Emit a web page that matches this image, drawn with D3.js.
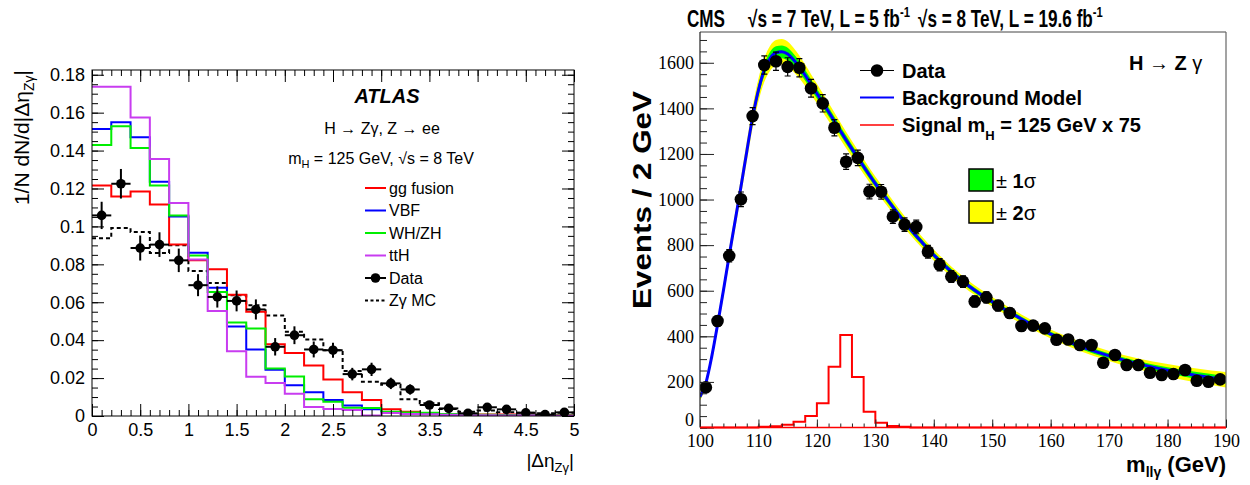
<!DOCTYPE html>
<html>
<head>
<meta charset="utf-8">
<script src="https://cdn.jsdelivr.net/npm/d3@7"></script>
<style>
  body { margin: 0; background: #fff; }
  svg { display: block; }
</style>
</head>
<body>
<svg id="fig" width="1250" height="485"></svg>
<script>
// ================= Left panel: normalised |Δη(Zγ)| distributions =================
const etaEdges = d3.range(26).map(i => i * 0.2);           // 25 bins of 0.2 in [0,5]
const ggFusion = [0.1216,0.1158,0.1184,0.1116,0.0904,0.0821,0.0774,0.0640,0.0550,0.0378,
                  0.0332,0.0266,0.0193,0.0125,0.0084,0.0036,0.0022,0.0014,0.0010,0.0010,
                  0.0008,0.0008,0.0006,0.0005,0.0005];
const vbf      = [0.1514,0.1549,0.1470,0.1235,0.1052,0.0861,0.0677,0.0472,0.0351,0.0244,
                  0.0162,0.0125,0.0084,0.0055,0.0036,0.0020,0.0015,0.0011,0.0008,0.0005,
                  0.0004,0.0003,0.0002,0.0002,0.0001];
const whzh     = [0.1430,0.1528,0.1414,0.1216,0.1058,0.0847,0.0654,0.0493,0.0461,0.0250,
                  0.0208,0.0089,0.0075,0.0043,0.0042,0.0023,0.0019,0.0017,0.0011,0.0008,
                  0.0006,0.0004,0.0003,0.0002,0.0002];
const ttH      = [0.1737,0.1737,0.1575,0.1356,0.1124,0.0825,0.0554,0.0342,0.0207,0.0174,
                  0.0118,0.0048,0.0037,0.0031,0.0003,0.0016,0.0011,0.0009,0.0007,0.0004,
                  0.0004,0.0003,0.0002,0.0001,0.0001];
const zgammaMC = [0.0937,0.0991,0.0970,0.0860,0.0900,0.0765,0.0702,0.0637,0.0584,0.0530,
                  0.0444,0.0404,0.0347,0.0237,0.0180,0.0165,0.0088,0.0067,0.0037,0.0023,
                  0.0029,0.0020,0.0017,0.0014,0.0017];
const etaData  = [0.1058,0.1225,0.0886,0.0904,0.0821,0.0690,0.0628,0.0607,0.0562,0.0365,
                  0.0426,0.0351,0.0347,0.0221,0.0246,0.0172,0.0140,0.0058,0.0040,0.0014,
                  0.0046,0.0035,0.0017,0.0007,0.0019];
const etaDataErr = [0.0072,0.0078,0.0066,0.0065,0.0062,0.0058,0.0056,0.0055,0.0053,0.0046,
                    0.0047,0.0042,0.0040,0.0033,0.0035,0.0030,0.0027,0.0018,0.0015,0.0009,
                    0.0016,0.0014,0.0010,0.0007,0.0011];
const etaTicks   = [0,0.5,1,1.5,2,2.5,3,3.5,4,4.5,5];
const etaMinor   = d3.range(51).map(i => i / 10);
const densTicks  = [0,0.02,0.04,0.06,0.08,0.1,0.12,0.14,0.16,0.18];
const densMinor  = d3.range(37).map(i => i * 0.005);
const densLabels = ["0","0.02","0.04","0.06","0.08","0.1","0.12","0.14","0.16","0.18"];

const procNames  = ["gg fusion","VBF","WH/ZH","ttH"];
const procColors = ["#ff0000","#0000ff","#00ee00","#c83cf0"];

// ================= Right panel: m(llγ) spectrum =================
const massEdges   = d3.range(46).map(i => 100 + 2 * i);    // 45 bins of 2 GeV
const massCenters = d3.range(45).map(i => 101 + 2 * i);
const massCounts = [176,467,753,1001,1366,1590,1607,1582,1578,1488,
                    1422,1315,1166,1183,1035,1034,925,890,880,771,
                    714,662,640,553,571,535,502,445,447,435,
                    385,386,362,362,284,318,274,274,240,230,
                    235,252,205,201,211];
const massErr    = [13,22,27,32,37,40,40,40,40,39,
                    38,36,34,34,32,32,30,30,30,28,
                    27,26,25,24,24,23,22,21,21,21,
                    20,20,19,19,17,18,17,17,15,15,
                    15,16,14,14,15];
const signalX75  = [0,0,0,0,0,3,6,12,25,50,
                    106,267,406,221,69,21,7,3,0,0,
                    0,0,0,0,0,0,0,0,0,0,
                    0,0,0,0,0,0,0,0,0,0,
                    0,0,0,0,0];
const fitMass = [100,101,102,103,104,105,106,107,108,109,110,111,112,113,114,115,116,117,118,119,
                 120,122,124,126,128,130,132,134,136,138,140,142,144,146,148,150,155,160,165,170,
                 175,180,185,190];
const fitBkg  = [135,195,310,450,600,755,905,1055,1210,1360,1480,1568,1620,1644,1648,1638,1613,1582,1545,1505,
                 1465,1385,1302,1222,1145,1070,1002,934,870,812,757,707,662,621,585,552,476,410,357,314,
                 279,251,228,209];
const fitSig1 = [8,9,11,13,15,17,18,20,22,23,25,26,28,28,28,28,27,25,24,23,
                 22,20,19,18,17,16,15,14,13,13,12,12,11,11,11,11,10,10,11,11,
                 12,13,15,16];
const fitSig2 = [15,18,22,26,30,33,36,40,43,46,50,52,55,56,56,55,53,50,47,45,
                 43,40,37,35,33,31,29,27,26,25,24,23,22,22,21,21,20,20,21,22,
                 24,28,31,34];
const massTicks  = [100,110,120,130,140,150,160,170,180,190];
const massMinor  = d3.range(46).map(i => 100 + 2 * i);
const countTicks = [0,200,400,600,800,1000,1200,1400,1600];
const countMinor = d3.range(35).map(i => i * 50);

// ================= drawing =================
const svg = d3.select("#fig");
const SANS = "'Liberation Sans', Arial, Helvetica, sans-serif";
const SERIF = "'Liberation Serif', 'Times New Roman', serif";

function stepPath(x, y, edges, vals) {
  const pts = vals.map((v, i) => [edges[i], v]);
  pts.push([edges[vals.length], vals[vals.length - 1]]);
  return d3.line().x(d => x(d[0])).y(d => y(d[1])).curve(d3.curveStepAfter)(pts);
}

function tickLayer(g, axis, opts) {
  g.call(axis);
  g.select(".domain").remove();
  g.selectAll(".tick line").attr("stroke", opts.color || "#000").attr("stroke-width", 1);
  g.attr("font-family", opts.font || SANS).attr("font-size", opts.size || 18);
  g.selectAll(".tick text").attr("fill", "#000");
  return g;
}

// ---------- left panel ----------
const L = { x0: 92, x1: 574, y0: 416, y1: 70 };
const xL = d3.scaleLinear().domain([0, 5]).range([L.x0, L.x1]);
const yL = d3.scaleLinear().domain([0, 0.1825]).range([L.y0, L.y1]);

svg.append("clipPath").attr("id", "clipL").append("rect")
  .attr("x", L.x0).attr("y", L.y1).attr("width", L.x1 - L.x0).attr("height", L.y0 - L.y1);

const left = svg.append("g");
const plotL = left.append("g").attr("clip-path", "url(#clipL)");

// Zγ MC (dashed)
plotL.append("path").attr("d", stepPath(xL, yL, etaEdges, zgammaMC))
  .attr("fill", "none").attr("stroke", "#000").attr("stroke-width", 2).attr("stroke-dasharray", "4,3");

// signal production modes
[ggFusion, vbf, whzh, ttH].forEach((vals, k) => {
  plotL.append("path").attr("d", stepPath(xL, yL, etaEdges, vals))
    .attr("fill", "none").attr("stroke", procColors[k]).attr("stroke-width", 2);
});

// data with errors
const ptsL = plotL.append("g");
etaData.forEach((v, i) => {
  const c = (etaEdges[i] + etaEdges[i + 1]) / 2;
  ptsL.append("line").attr("x1", xL(etaEdges[i])).attr("x2", xL(etaEdges[i + 1]))
    .attr("y1", yL(v)).attr("y2", yL(v)).attr("stroke", "#000").attr("stroke-width", 2);
  ptsL.append("line").attr("x1", xL(c)).attr("x2", xL(c))
    .attr("y1", yL(v - etaDataErr[i])).attr("y2", yL(v + etaDataErr[i]))
    .attr("stroke", "#000").attr("stroke-width", 2);
  ptsL.append("circle").attr("cx", xL(c)).attr("cy", yL(v)).attr("r", 4.8).attr("fill", "#000");
});

// frame + ticks
left.append("rect").attr("x", L.x0).attr("y", L.y1).attr("width", L.x1 - L.x0).attr("height", L.y0 - L.y1)
  .attr("fill", "none").attr("stroke", "#000").attr("stroke-width", 1);

tickLayer(left.append("g").attr("transform", `translate(0,${L.y0})`),
  d3.axisBottom(xL).tickValues(etaTicks).tickSizeInner(-12).tickSizeOuter(0).tickPadding(7)
    .tickFormat(d3.format("~g")), {});
tickLayer(left.append("g").attr("transform", `translate(0,${L.y0})`),
  d3.axisBottom(xL).tickValues(etaMinor).tickSizeInner(-6).tickSizeOuter(0).tickFormat(""), {});
tickLayer(left.append("g").attr("transform", `translate(0,${L.y1})`),
  d3.axisTop(xL).tickValues(etaTicks).tickSizeInner(-12).tickSizeOuter(0).tickFormat(""), {});
tickLayer(left.append("g").attr("transform", `translate(0,${L.y1})`),
  d3.axisTop(xL).tickValues(etaMinor).tickSizeInner(-6).tickSizeOuter(0).tickFormat(""), {});
tickLayer(left.append("g").attr("transform", `translate(${L.x0},0)`),
  d3.axisLeft(yL).tickValues(densTicks).tickSizeInner(-12).tickSizeOuter(0).tickPadding(7)
    .tickFormat((d, i) => densLabels[i]), {});
tickLayer(left.append("g").attr("transform", `translate(${L.x0},0)`),
  d3.axisLeft(yL).tickValues(densMinor).tickSizeInner(-6).tickSizeOuter(0).tickFormat(""), {});
tickLayer(left.append("g").attr("transform", `translate(${L.x1},0)`),
  d3.axisRight(yL).tickValues(densTicks).tickSizeInner(-12).tickSizeOuter(0).tickFormat(""), {});
tickLayer(left.append("g").attr("transform", `translate(${L.x1},0)`),
  d3.axisRight(yL).tickValues(densMinor).tickSizeInner(-6).tickSizeOuter(0).tickFormat(""), {});

// axis titles
const yTitleL = left.append("text").attr("transform", `translate(29,${L.y1}) rotate(-90)`)
  .attr("text-anchor", "end").attr("font-family", SANS).attr("font-size", 21);
yTitleL.append("tspan").text("1/N dN/d|Δη");
yTitleL.append("tspan").attr("font-size", 14).attr("dy", 5).text("Zγ");
yTitleL.append("tspan").attr("dy", -5).text("|");

const xTitleL = left.append("text").attr("x", L.x1).attr("y", 467)
  .attr("text-anchor", "end").attr("font-family", SANS).attr("font-size", 19);
xTitleL.append("tspan").text("|Δη");
xTitleL.append("tspan").attr("font-size", 13).attr("dy", 5).text("Zγ");
xTitleL.append("tspan").attr("dy", -5).text("|");

// labels
left.append("text").attr("x", 387).attr("y", 103).attr("text-anchor", "middle")
  .attr("font-family", SANS).attr("font-size", 20).attr("font-weight", "bold")
  .attr("font-style", "italic").text("ATLAS");
left.append("text").attr("x", 382).attr("y", 134).attr("text-anchor", "middle")
  .attr("font-family", SANS).attr("font-size", 16).text("H → Zγ, Z → ee");
const mh = left.append("text").attr("x", 381).attr("y", 164).attr("text-anchor", "middle")
  .attr("font-family", SANS).attr("font-size", 16);
mh.append("tspan").text("m");
mh.append("tspan").attr("font-size", 11).attr("dy", 4).text("H");
mh.append("tspan").attr("dy", -4).text(" = 125 GeV, √s = 8 TeV");

// legend
const legL = left.append("g").attr("font-family", SANS).attr("font-size", 16);
const legRowY = [188, 210.5, 233, 255.5, 278, 300.5];
procNames.forEach((n, k) => {
  legL.append("line").attr("x1", 365).attr("x2", 386).attr("y1", legRowY[k]).attr("y2", legRowY[k])
    .attr("stroke", procColors[k]).attr("stroke-width", 2);
  legL.append("text").attr("x", 389).attr("y", legRowY[k] + 5.5).text(n);
});
legL.append("line").attr("x1", 365).attr("x2", 386).attr("y1", legRowY[4]).attr("y2", legRowY[4])
  .attr("stroke", "#000").attr("stroke-width", 2);
legL.append("circle").attr("cx", 375.5).attr("cy", legRowY[4]).attr("r", 4.8).attr("fill", "#000");
legL.append("text").attr("x", 389).attr("y", legRowY[4] + 5.5).text("Data");
legL.append("line").attr("x1", 365).attr("x2", 386).attr("y1", legRowY[5]).attr("y2", legRowY[5])
  .attr("stroke", "#000").attr("stroke-width", 2).attr("stroke-dasharray", "3,2.5");
legL.append("text").attr("x", 389).attr("y", legRowY[5] + 5.5).text("Zγ MC");

// ---------- right panel ----------
const R = { x0: 700, x1: 1226, y0: 427.5, y1: 32 };
const xR = d3.scaleLinear().domain([100, 190]).range([R.x0, R.x1]);
const yR = d3.scaleLinear().domain([0, 1735]).range([R.y0, R.y1]);

svg.append("clipPath").attr("id", "clipR").append("rect")
  .attr("x", R.x0).attr("y", R.y1 - 2).attr("width", R.x1 - R.x0).attr("height", R.y0 - R.y1 + 4);

const right = svg.append("g");
const plotR = right.append("g").attr("clip-path", "url(#clipR)");

const band = (sig) => d3.area().curve(d3.curveMonotoneX)
  .x((d, i) => xR(fitMass[i]))
  .y0((d, i) => yR(fitBkg[i] - sig[i]))
  .y1((d, i) => yR(fitBkg[i] + sig[i]));
plotR.append("path").attr("d", band(fitSig2)(fitMass)).attr("fill", "#ffff00");
plotR.append("path").attr("d", band(fitSig1)(fitMass)).attr("fill", "#00ff00");
plotR.append("path")
  .attr("d", d3.line().curve(d3.curveMonotoneX).x((d, i) => xR(fitMass[i])).y((d, i) => yR(fitBkg[i]))(fitMass))
  .attr("fill", "none").attr("stroke", "#0000ff").attr("stroke-width", 3);

// signal template (x75)
plotR.append("path").attr("d", stepPath(xR, yR, massEdges, signalX75))
  .attr("fill", "none").attr("stroke", "#ff0000").attr("stroke-width", 2);

// data points
const ptsR = plotR.append("g");
massCounts.forEach((v, i) => {
  const cx = xR(massCenters[i]);
  const lo = yR(v - massErr[i]), hi = yR(v + massErr[i]);
  ptsR.append("line").attr("x1", cx).attr("x2", cx).attr("y1", lo).attr("y2", hi)
    .attr("stroke", "#000").attr("stroke-width", 1.2);
  [lo, hi].forEach(yy => ptsR.append("line").attr("x1", cx - 3).attr("x2", cx + 3)
    .attr("y1", yy).attr("y2", yy).attr("stroke", "#000").attr("stroke-width", 1.2));
  ptsR.append("circle").attr("cx", cx).attr("cy", yR(v)).attr("r", 6.3).attr("fill", "#000");
});

// frame
right.append("line").attr("x1", R.x0).attr("x2", R.x1).attr("y1", R.y1).attr("y2", R.y1)
  .attr("stroke", "#444").attr("stroke-width", 1);
right.append("line").attr("x1", R.x1).attr("x2", R.x1).attr("y1", R.y1).attr("y2", R.y0)
  .attr("stroke", "#666").attr("stroke-width", 1.2);
right.append("line").attr("x1", R.x0).attr("x2", R.x0).attr("y1", R.y1).attr("y2", R.y0)
  .attr("stroke", "#222").attr("stroke-width", 1.2);

tickLayer(right.append("g").attr("transform", `translate(0,${R.y0})`),
  d3.axisBottom(xR).tickValues(massTicks).tickSizeInner(-8).tickSizeOuter(0).tickPadding(7)
    .tickFormat(d3.format("d")),
  { font: SERIF, size: 18, color: "#222" });
tickLayer(right.append("g").attr("transform", `translate(0,${R.y0})`),
  d3.axisBottom(xR).tickValues(massMinor).tickSizeInner(-4).tickSizeOuter(0).tickFormat(""),
  { color: "#222" });
const yAxR = tickLayer(right.append("g").attr("transform", `translate(${R.x0},0)`),
  d3.axisLeft(yR).tickValues(countTicks).tickSizeInner(-14).tickSizeOuter(0).tickPadding(6)
    .tickFormat(d3.format("d")),
  { font: SERIF, size: 18, color: "#222" });
// the zero label sits just above the corner, clear of the first mass label
yAxR.selectAll(".tick text").filter(d => d === 0).attr("dy", "-0.12em");
tickLayer(right.append("g").attr("transform", `translate(${R.x0},0)`),
  d3.axisLeft(yR).tickValues(countMinor).tickSizeInner(-7).tickSizeOuter(0).tickFormat(""),
  { color: "#222" });

// red signal baseline sits on the x axis
right.append("line").attr("x1", R.x0).attr("x2", R.x1).attr("y1", R.y0).attr("y2", R.y0)
  .attr("stroke", "#ff0000").attr("stroke-width", 1.5);

// axis titles
right.append("text").attr("transform", "translate(651,200) rotate(-90)")
  .attr("text-anchor", "middle").attr("font-family", SANS).attr("font-size", 25)
  .attr("font-weight", "bold").attr("textLength", 218).attr("lengthAdjust", "spacingAndGlyphs")
  .text("Events / 2 GeV");
const xTitleR = right.append("text").attr("x", R.x1).attr("y", 472).attr("text-anchor", "end")
  .attr("font-family", SANS).attr("font-size", 22).attr("font-weight", "bold");
xTitleR.append("tspan").text("m");
xTitleR.append("tspan").attr("font-size", 14).attr("dy", 5).text("llγ");
xTitleR.append("tspan").attr("dy", -5).text(" (GeV)");

// header, horizontally condensed
function condensed(x, y, width, fill) {
  const g = right.append("g");
  const t = g.append("text").attr("font-family", SANS).attr("font-size", 23).attr("font-weight", "bold");
  fill(t);
  const w = t.node().getBBox().width;
  g.attr("transform", `translate(${x},${y}) scale(${width / w},1)`);
}
condensed(687, 27, 38, t => t.text("CMS"));
condensed(748, 27, 162, t => {
  t.append("tspan").text("√s = 7 TeV, L = 5 fb");
  t.append("tspan").attr("font-size", 15).attr("dy", -10).text("-1");
});
condensed(918, 27, 185, t => {
  t.append("tspan").text("√s = 8 TeV, L = 19.6 fb");
  t.append("tspan").attr("font-size", 15).attr("dy", -10).text("-1");
});

// channel label
right.append("text").attr("x", 1129).attr("y", 70).attr("font-family", SANS)
  .attr("font-size", 20).attr("font-weight", "bold")
  .call(t => {
    t.append("tspan").text("H ");
    t.append("tspan").attr("font-weight", "normal").text("→");
    t.append("tspan").text(" Z ");
    t.append("tspan").attr("font-weight", "normal").text("γ");
  });

// legend
const legR = right.append("g").attr("font-family", SANS).attr("font-size", 20).attr("font-weight", "bold");
legR.append("line").attr("x1", 860).attr("x2", 894).attr("y1", 70.5).attr("y2", 70.5)
  .attr("stroke", "#000").attr("stroke-width", 1);
legR.append("circle").attr("cx", 877).attr("cy", 70.5).attr("r", 6.3).attr("fill", "#000");
legR.append("text").attr("x", 902).attr("y", 77.5).text("Data");
legR.append("line").attr("x1", 860).attr("x2", 894).attr("y1", 97.5).attr("y2", 97.5)
  .attr("stroke", "#0000ff").attr("stroke-width", 2);
legR.append("text").attr("x", 902).attr("y", 104.5).text("Background Model");
legR.append("line").attr("x1", 860).attr("x2", 894).attr("y1", 125).attr("y2", 125)
  .attr("stroke", "#ff0000").attr("stroke-width", 1.5);
const sigTxt = legR.append("text").attr("x", 902).attr("y", 132);
sigTxt.append("tspan").text("Signal m");
sigTxt.append("tspan").attr("font-size", 13).attr("dy", 8).text("H");
sigTxt.append("tspan").attr("dy", -8).text(" = 125 GeV x 75");

[["#00ff00", "1", 169], ["#ffff00", "2", 201]].forEach(([col, n, y]) => {
  legR.append("rect").attr("x", 969).attr("y", y).attr("width", 24).attr("height", 22)
    .attr("fill", col).attr("stroke", "#000").attr("stroke-width", 1.5);
  const t = legR.append("text").attr("x", 996).attr("y", y + 18.5);
  t.append("tspan").attr("font-weight", "normal").text("±");
  t.append("tspan").text(" " + n);
  t.append("tspan").attr("font-weight", "normal").text("σ");
});
</script>
</body>
</html>
